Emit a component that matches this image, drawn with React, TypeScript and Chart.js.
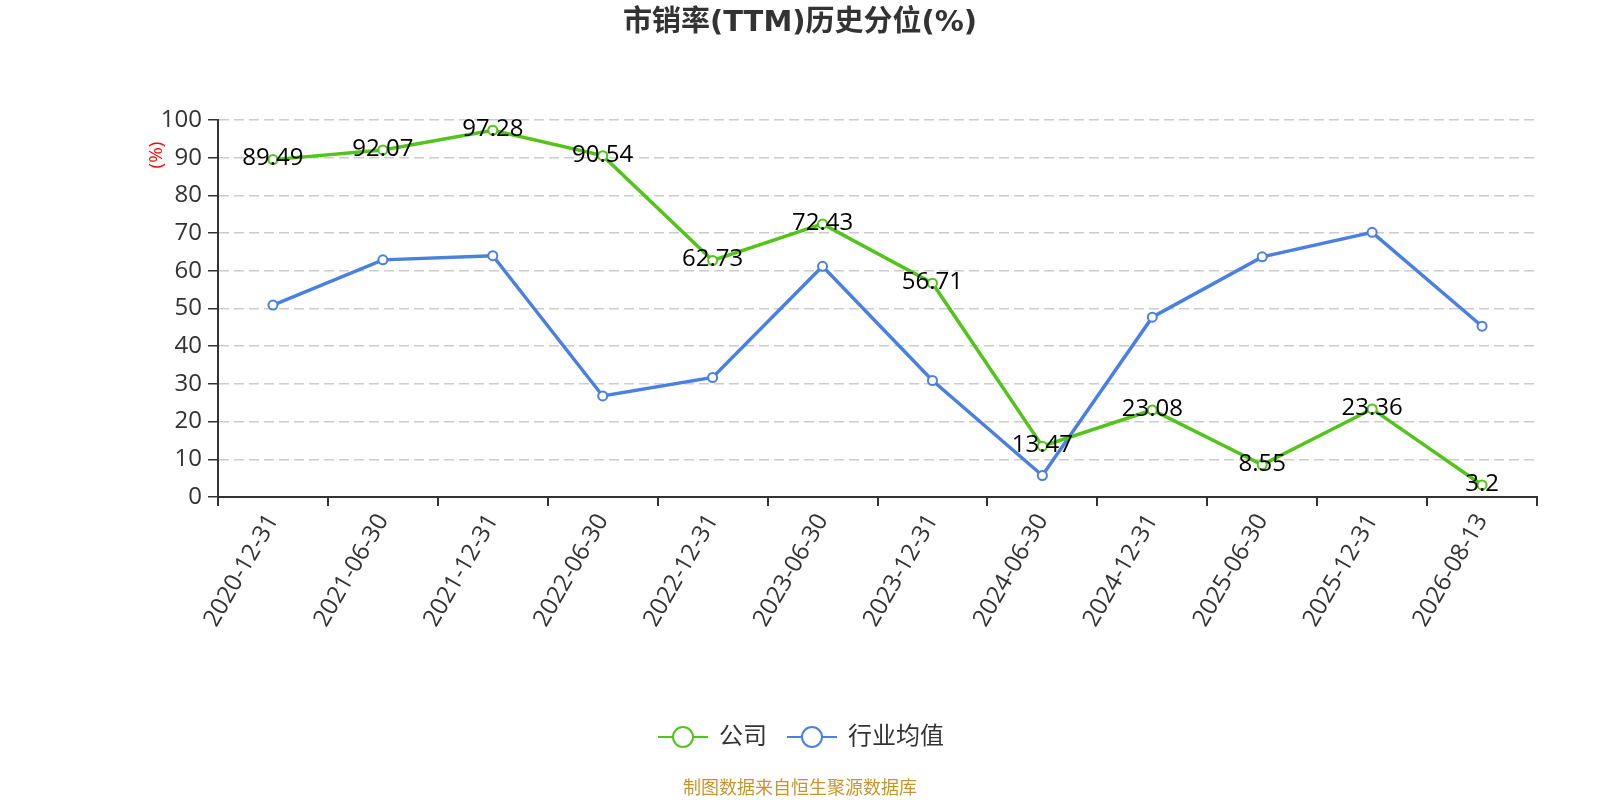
import { useEffect, useRef } from "react";
import { Chart, registerables } from "chart.js";

Chart.register(...registerables);

// dữ liệu
const categories = [
  "2020-12-31",
  "2021-06-30",
  "2021-12-31",
  "2022-06-30",
  "2022-12-31",
  "2023-06-30",
  "2023-12-31",
  "2024-06-30",
  "2024-12-31",
  "2025-06-30",
  "2025-12-31",
  "2026-08-13",
];
const companyValues = [89.49, 92.07, 97.28, 90.54, 62.73, 72.43, 56.71, 13.47, 23.08, 8.55, 23.36, 3.2];
const industryValues = [50.9, 62.9, 64.0, 26.8, 31.7, 61.2, 30.9, 5.7, 47.7, 63.7, 70.2, 45.3];
const yTicks = [0, 10, 20, 30, 40, 50, 60, 70, 80, 90, 100];

const GREEN = "#52c41a";
const BLUE = "#4a80e0";
const FONT = '"Open Sans", "Noto Sans CJK SC", sans-serif';
const TITLE_FONT = '"DejaVu Sans", "Noto Sans CJK SC", sans-serif';

const App = () => {
  const chartRef = useRef<HTMLCanvasElement>(null);
  const chartInstance = useRef<Chart | null>(null);

  useEffect(() => {
    document.body.style.margin = "0";
    if (!chartRef.current) return;
    if (chartInstance.current) chartInstance.current.destroy();

    // vẽ tiêu đề, nhãn dữ liệu, legend, chú thích
    const decorPlugin = {
      id: "decor",
      afterDatasetsDraw(chart: Chart) {
        const { ctx } = chart;
        ctx.save();
        // nhãn giá trị của "公司"
        const meta = chart.getDatasetMeta(0);
        ctx.font = `24px ${FONT}`;
        ctx.fillStyle = "#000";
        ctx.textAlign = "center";
        ctx.textBaseline = "middle";
        meta.data.forEach((pt: any, i: number) => {
          ctx.fillText(String(companyValues[i]), pt.x, pt.y - 1);
        });
        ctx.restore();
      },
      afterDraw(chart: Chart) {
        const { ctx } = chart;
        ctx.save();
        // tiêu đề
        ctx.font = `bold 29px ${TITLE_FONT}`;
        ctx.fillStyle = "#333";
        ctx.textAlign = "center";
        ctx.textBaseline = "middle";
        ctx.fillText("市销率(TTM)历史分位(%)", 800, 23);

        // đơn vị trục y
        ctx.save();
        ctx.translate(157, 155);
        ctx.rotate(-Math.PI / 2);
        ctx.font = `19px ${FONT}`;
        ctx.fillStyle = "#ff0000";
        ctx.fillText("(%)", 0, 0);
        ctx.restore();

        // legend
        const drawItem = (x: number, color: string, label: string) => {
          ctx.strokeStyle = color;
          ctx.lineWidth = 2;
          ctx.beginPath();
          ctx.moveTo(x, 737);
          ctx.lineTo(x + 50, 737);
          ctx.stroke();
          ctx.beginPath();
          ctx.arc(x + 25, 737, 10, 0, Math.PI * 2);
          ctx.fillStyle = "#fff";
          ctx.fill();
          ctx.stroke();
          ctx.font = `24px ${FONT}`;
          ctx.fillStyle = "#333";
          ctx.textAlign = "left";
          ctx.fillText(label, x + 61, 737);
        };
        drawItem(658, GREEN, "公司");
        drawItem(787, BLUE, "行业均值");

        // nguồn dữ liệu
        ctx.font = `18px ${FONT}`;
        ctx.fillStyle = "#c8952c";
        ctx.textAlign = "center";
        ctx.fillText("制图数据来自恒生聚源数据库", 800, 789);
        ctx.restore();
      },
    };

    chartInstance.current = new Chart(chartRef.current, {
      type: "line",
      data: {
        labels: categories,
        datasets: [
          {
            label: "公司",
            data: companyValues,
            borderColor: GREEN,
            backgroundColor: "#fff",
            borderWidth: 3.5,
            pointRadius: 4.5,
            pointBorderWidth: 2,
            pointBackgroundColor: "#fff",
            pointBorderColor: GREEN,
          },
          {
            label: "行业均值",
            data: industryValues,
            borderColor: BLUE,
            backgroundColor: "#fff",
            borderWidth: 3.5,
            pointRadius: 4.5,
            pointBorderWidth: 2,
            pointBackgroundColor: "#fff",
            pointBorderColor: BLUE,
          },
        ],
      },
      options: {
        animation: false,
        responsive: false,
        layout: { padding: { top: 120, right: 63, left: 0, bottom: 0 } },
        scales: {
          x: {
            offset: true,
            afterFit: (scale: any) => {
              scale.height = 303;
            },
            grid: {
              offset: true,
              drawOnChartArea: false,
              color: "#333",
              tickColor: "#333",
              tickLength: 9,
              lineWidth: 2,
            },
            border: { color: "#333", width: 2 },
            ticks: {
              color: "#333",
              font: { size: 24, family: FONT },
              maxRotation: 60,
              minRotation: 60,
              autoSkip: false,
              padding: 3,
            },
          },
          y: {
            min: 0,
            max: 100,
            afterFit: (scale: any) => {
              scale.width = 218;
            },
            afterBuildTicks: (scale: any) => {
              scale.ticks = yTicks.map((v) => ({ value: v }));
            },
            grid: {
              color: "#cccccc",
              lineWidth: 1.5,
              tickColor: "#333",
              tickLength: 10,
            },
            border: { color: "#333", width: 2, dash: [10, 5] },
            ticks: {
              color: "#333",
              font: { size: 24, family: FONT },
              padding: 6,
            },
          },
        },
        plugins: {
          legend: { display: false },
          title: { display: false },
          tooltip: { enabled: false },
        },
      },
      plugins: [decorPlugin],
    });

    return () => {
      if (chartInstance.current) {
        chartInstance.current.destroy();
        chartInstance.current = null;
      }
    };
  }, []);

  return (
    <div style={{ width: 1600, height: 800, background: "#fff" }}>
      <canvas ref={chartRef} width={1600} height={800} style={{ display: "block" }}></canvas>
    </div>
  );
};

export default App;
